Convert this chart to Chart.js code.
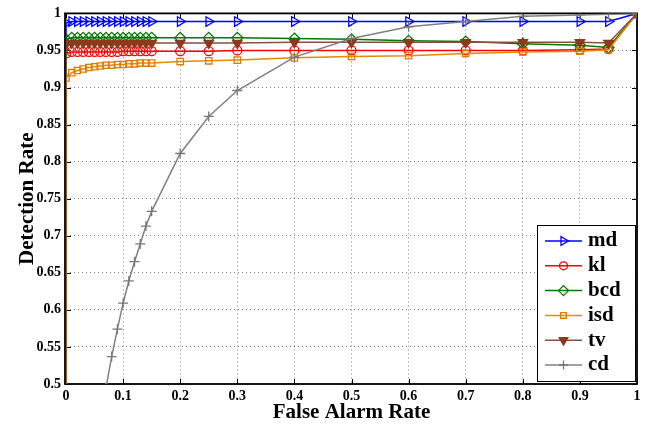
<!DOCTYPE html>
<html>
<head>
<meta charset="utf-8">
<title>ROC</title>
<script src="https://cdn.jsdelivr.net/npm/chart.js@4.4.1/dist/chart.umd.min.js"></script>
<style>
  html, body { margin: 0; padding: 0; background: #fff; }
  #wrap { width: 651px; height: 430px; }
</style>
</head>
<body>
<div id="wrap"><canvas id="roc" width="651" height="430"></canvas></div>
<script>
// false alarm rate of every sample (all curves start at the origin)
const falseAlarm = [0, 0, 0.01, 0.02, 0.03, 0.04, 0.05, 0.06, 0.07, 0.08, 0.09, 0.10, 0.11, 0.12, 0.13, 0.14, 0.15,
                    0.2, 0.25, 0.3, 0.4, 0.5, 0.6, 0.7, 0.8, 0.9, 0.95, 1];

// detection rate per method
const md  = [0, 0.987, 0.989, 0.989, 0.989, 0.989, 0.989, 0.989, 0.989, 0.989, 0.989, 0.989, 0.989, 0.989, 0.989, 0.989, 0.989,
             0.989, 0.989, 0.989, 0.989, 0.989, 0.989, 0.989, 0.989, 0.989, 0.989, 1];
const kl  = [0, 0.946, 0.948, 0.948, 0.948, 0.948, 0.948, 0.948, 0.948, 0.948, 0.948, 0.949, 0.949, 0.949, 0.949, 0.949, 0.949,
             0.949, 0.949, 0.95, 0.95, 0.95, 0.95, 0.95, 0.95, 0.951, 0.952, 1];
const bcd = [0, 0.965, 0.967, 0.967, 0.967, 0.967, 0.967, 0.967, 0.967, 0.967, 0.967, 0.967, 0.967, 0.967, 0.967, 0.967, 0.967,
             0.967, 0.967, 0.967, 0.966, 0.965, 0.963, 0.962, 0.959, 0.957, 0.954, 1];
const isd = [0, 0.913, 0.920, 0.923, 0.925, 0.927, 0.928, 0.929, 0.930, 0.930, 0.931, 0.931, 0.932, 0.932, 0.933, 0.933, 0.933,
             0.935, 0.936, 0.937, 0.940, 0.942, 0.943, 0.946, 0.948, 0.949, 0.951, 1];
const tv  = [0, 0.958, 0.96, 0.96, 0.96, 0.96, 0.96, 0.96, 0.96, 0.96, 0.96, 0.96, 0.96, 0.96, 0.96, 0.96, 0.96,
             0.96, 0.96, 0.96, 0.961, 0.961, 0.961, 0.961, 0.961, 0.961, 0.96, 1];
const cd  = [0, 0, 0.08, 0.16, 0.24, 0.32, 0.39, 0.45, 0.495, 0.537, 0.574, 0.609, 0.639, 0.665, 0.689, 0.713, 0.733,
             0.811, 0.861, 0.896, 0.941, 0.966, 0.982, 0.989, 0.996, 0.998, 0.999, 1];

const methodNames = ['md', 'kl', 'bcd', 'isd', 'tv', 'cd'];
const methodRates = [md, kl, bcd, isd, tv, cd];

const rateMin = 0.5, rateMax = 1, rateStep = 0.05;
const alarmMin = 0, alarmMax = 1, alarmStep = 0.1;

const serif = "'Liberation Serif', 'Times New Roman', serif";

const styles = [
    { color: '#0000ff', edge: '#0000ff', fill: 'rgba(0,0,0,0)', point: 'triangle', rot: 90, r: 5.5 },
    { color: '#ff0000', edge: '#ff0000', fill: 'rgba(0,0,0,0)', point: 'circle', rot: 0, r: 4.5 },
    { color: '#007a00', edge: '#007a00', fill: 'rgba(0,0,0,0)', point: 'rectRot', rot: 0, r: 5.5 },
    { color: '#e68a00', edge: '#e07d00', fill: 'rgba(0,0,0,0)', point: 'rect', rot: 0, r: 4.5 },
    { color: '#8b4f42', edge: '#8b3a1e', fill: '#8b3a1e', point: 'triangle', rot: 180, r: 5.5 },
    { color: '#808080', edge: '#777777', fill: 'rgba(0,0,0,0)', point: 'cross', rot: 0, r: 5 }
];

const datasets = methodNames.map((name, i) => ({
    label: name,
    data: falseAlarm.map((fa, k) => ({ x: fa, y: methodRates[i][k] })),
    borderColor: styles[i].color,
    backgroundColor: styles[i].fill,
    borderWidth: 1.5,
    pointStyle: styles[i].point,
    pointRotation: styles[i].rot,
    pointRadius: styles[i].r,
    pointBorderColor: styles[i].edge,
    pointBackgroundColor: styles[i].fill,
    pointBorderWidth: 1.3,
    tension: 0,
    // later methods are painted over earlier ones
    order: methodNames.length - i
}));

// box outline with inward tick marks on all four sides, under the curves
const frameTicks = {
    id: 'frameTicks',
    beforeDatasetsDraw(chart) {
        const { ctx, chartArea: a, scales: { x, y } } = chart;
        ctx.save();
        ctx.strokeStyle = '#000';
        ctx.lineWidth = 1;
        ctx.beginPath();
        x.ticks.forEach(t => {
            const px = Math.round(x.getPixelForValue(t.value)) + 0.5;
            ctx.moveTo(px, a.bottom); ctx.lineTo(px, a.bottom - 5);
            ctx.moveTo(px, a.top); ctx.lineTo(px, a.top + 5);
        });
        y.ticks.forEach(t => {
            const py = Math.round(y.getPixelForValue(t.value)) + 0.5;
            ctx.moveTo(a.left, py); ctx.lineTo(a.left + 5, py);
            ctx.moveTo(a.right, py); ctx.lineTo(a.right - 5, py);
        });
        ctx.stroke();
        ctx.lineWidth = 1.8;
        ctx.strokeRect(a.left - 1, a.top, a.right - a.left + 1, a.bottom - a.top);
        ctx.restore();
    }
};

// boxed legend in the lower right corner, line sample + marker
const boxLegend = {
    id: 'boxLegend',
    afterDraw(chart) {
        const { ctx, chartArea: a } = chart;
        const w = 98, rowH = 24.8, h = 156;
        const left = a.right - w - 2, top = a.bottom - h - 3;
        ctx.save();
        ctx.fillStyle = '#fff';
        ctx.fillRect(left, top, w, h);
        ctx.strokeStyle = '#000';
        ctx.lineWidth = 1;
        ctx.strokeRect(left + 0.5, top + 0.5, w, h);
        chart.data.datasets.forEach((ds, i) => {
            const cy = top + 16 + i * rowH;
            ctx.strokeStyle = ds.borderColor;
            ctx.lineWidth = 1.5;
            ctx.beginPath();
            ctx.moveTo(left + 8, cy);
            ctx.lineTo(left + 45, cy);
            ctx.stroke();
            ctx.strokeStyle = ds.pointBorderColor;
            ctx.fillStyle = ds.pointBackgroundColor;
            ctx.lineWidth = ds.pointBorderWidth;
            Chart.helpers.drawPoint(ctx, {
                pointStyle: ds.pointStyle,
                rotation: ds.pointRotation,
                radius: ds.pointRadius - 0.5,
                borderWidth: ds.pointBorderWidth
            }, left + 26.5, cy);
            ctx.fillStyle = '#000';
            ctx.font = 'bold 21px ' + serif;
            ctx.textBaseline = 'middle';
            ctx.textAlign = 'left';
            ctx.fillText(ds.label, left + 51, cy);
        });
        ctx.restore();
    }
};

new Chart(document.getElementById('roc').getContext('2d'), {
    type: 'line',
    data: { datasets },
    plugins: [frameTicks, boxLegend],
    options: {
        responsive: false,
        animation: false,
        devicePixelRatio: 1,
        layout: { padding: { top: 11, right: 14, left: 0, bottom: 0 } },
        plugins: {
            legend: { display: false },
            tooltip: { enabled: false }
        },
        scales: {
            x: {
                type: 'linear',
                min: alarmMin,
                max: alarmMax,
                afterFit: s => { s.height = 46; },
                ticks: {
                    stepSize: alarmStep,
                    color: '#000',
                    padding: 4,
                    maxRotation: 0,
                    font: { family: serif, size: 14, weight: 'bold' },
                    callback: v => String(+v.toFixed(1))
                },
                grid: { color: 'rgba(0,0,0,0.5)', lineWidth: 1, drawTicks: false },
                border: { display: false, dash: [1, 3] },
                title: {
                    display: true,
                    text: 'False Alarm Rate',
                    color: '#000',
                    padding: { top: 0, bottom: 5 },
                    font: { family: serif, size: 21, weight: 'bold' }
                }
            },
            y: {
                type: 'linear',
                min: rateMin,
                max: rateMax,
                afterFit: s => { s.width = 66; },
                ticks: {
                    stepSize: rateStep,
                    color: '#000',
                    padding: 5,
                    font: { family: serif, size: 14, weight: 'bold' },
                    callback: v => String(+v.toFixed(2))
                },
                grid: { color: 'rgba(0,0,0,0.5)', lineWidth: 1, drawTicks: false },
                border: { display: false, dash: [1, 3] },
                title: {
                    display: true,
                    text: 'Detection Rate',
                    color: '#000',
                    padding: { top: 15, bottom: 0 },
                    font: { family: serif, size: 21, weight: 'bold' }
                }
            }
        }
    }
});
</script>
</body>
</html>
